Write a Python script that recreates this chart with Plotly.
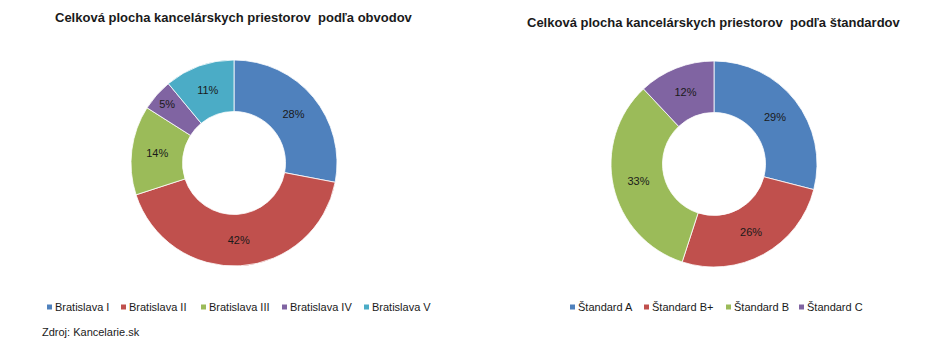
import plotly.graph_objects as go

W, H = 952, 342

districts = ["Bratislava I", "Bratislava II", "Bratislava III", "Bratislava IV", "Bratislava V"]
district_vals = [28, 42, 14, 5, 11]
standards = ["Štandard A", "Štandard B+", "Štandard B", "Štandard C"]
standard_vals = [29, 26, 33, 12]

colors5 = ["#4F81BD", "#C0504D", "#9BBB59", "#8064A2", "#4BACC6"]
colors4 = ["#4F81BD", "#C0504D", "#9BBB59", "#8064A2"]

title_left = "Celková plocha kancelárskych priestorov  podľa obvodov"
title_right = "Celková plocha kancelárskych priestorov  podľa štandardov"
source = "Zdroj: Kancelarie.sk"

FONT = "Liberation Sans, Arial, sans-serif"
TXT = "#1a1a1a"

# layout: legend item x positions (pixels) for the two custom legends
legend_left_x = [47, 121, 201, 282, 364]
legend_right_x = [570, 644, 726, 799]
LEG_Y = 307


def dom(cx, cy, r):
    return dict(x=[(cx - r) / W, (cx + r) / W], y=[1 - (cy + r) / H, 1 - (cy - r) / H])


fig = go.Figure()
fig.add_trace(go.Pie(
    labels=districts, values=district_vals, hole=0.5, sort=False,
    direction="clockwise", rotation=0,
    marker=dict(colors=colors5, line=dict(color="white", width=0.8)),
    texttemplate="%{value}%", textposition="inside",
    insidetextfont=dict(color=TXT, size=11, family=FONT),
    domain=dom(234, 163, 103), showlegend=False, hoverinfo="label+value",
))
fig.add_trace(go.Pie(
    labels=standards, values=standard_vals, hole=0.5, sort=False,
    direction="clockwise", rotation=0,
    marker=dict(colors=colors4, line=dict(color="white", width=0.8)),
    texttemplate="%{value}%", textposition="inside",
    insidetextfont=dict(color=TXT, size=11, family=FONT),
    domain=dom(714, 164, 103), showlegend=False, hoverinfo="label+value",
))

annotations = [
    dict(text="<b>" + title_left + "</b>", x=234 / W, y=1 - 18 / H, xref="paper", yref="paper",
         showarrow=False, font=dict(size=13, family=FONT, color=TXT), xanchor="center", yanchor="middle"),
    dict(text="<b>" + title_right + "</b>", x=714 / W, y=1 - 22 / H, xref="paper", yref="paper",
         showarrow=False, font=dict(size=13, family=FONT, color=TXT), xanchor="center", yanchor="middle"),
    dict(text=source, x=40 / W, y=1 - 332 / H, xref="paper", yref="paper",
         showarrow=False, font=dict(size=11, family=FONT, color=TXT), xanchor="left", yanchor="middle"),
]
shapes = []
SQ = 5
for labels, cols, xs in [(districts, colors5, legend_left_x), (standards, colors4, legend_right_x)]:
    for lab, col, x0 in zip(labels, cols, xs):
        shapes.append(dict(type="rect", xref="paper", yref="paper",
                           x0=x0 / W, x1=(x0 + SQ) / W,
                           y0=1 - (LEG_Y + SQ / 2) / H, y1=1 - (LEG_Y - SQ / 2) / H,
                           fillcolor=col, line=dict(width=0)))
        annotations.append(dict(text=lab, x=(x0 + SQ + 1) / W, y=1 - LEG_Y / H, xref="paper", yref="paper",
                                showarrow=False, xanchor="left", yanchor="middle",
                                font=dict(size=11, family=FONT, color=TXT)))

fig.update_layout(
    width=W, height=H, margin=dict(l=0, r=0, t=0, b=0),
    paper_bgcolor="white", plot_bgcolor="white",
    font=dict(family=FONT, color=TXT),
    showlegend=False,
    annotations=annotations, shapes=shapes,
)

fig.write_html("out.html")
